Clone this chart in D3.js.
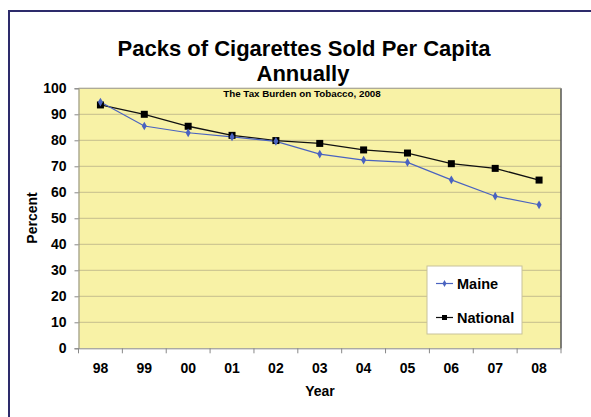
<!DOCTYPE html>
<html><head><meta charset="utf-8">
<script src="https://cdn.jsdelivr.net/npm/d3@7"></script>
<style>body{margin:0;background:#fff;}svg{display:block;font-family:"Liberation Sans",Arial,sans-serif;}</style>
</head><body><svg id="c" width="591" height="417"></svg>
<script>
const years = ["98","99","00","01","02","03","04","05","06","07","08"];
const maine = [94.7,85.5,82.9,81.3,79.6,74.7,72.4,71.5,64.8,58.5,55.2];
const national = [93.6,90.0,85.4,81.9,79.9,78.8,76.3,75.1,71.0,69.2,64.7];
const yTicks = [0,10,20,30,40,50,60,70,80,90,100];

const svg = d3.select("#c");
// outer frame
svg.append("path").attr("d","M9,420 L9,11 L600,11").attr("fill","none").attr("stroke","#2d2b6b").attr("stroke-width",2);

const L=78.5, R=561, T=88.3, B=348.3;
const x = d3.scaleBand().domain(years).range([L,R]);
const y = d3.scaleLinear().domain([0,100]).range([B,T]);

svg.append("rect").attr("x",L).attr("y",T).attr("width",R-L).attr("height",B-T).attr("fill","#f8f2a6");
svg.append("g").selectAll("line").data(yTicks.slice(1)).join("line")
  .attr("x1",L).attr("x2",R).attr("y1",d=>y(d)).attr("y2",d=>y(d)).attr("stroke","#c5bd8e").attr("stroke-width",1);
svg.append("line").attr("x1",R).attr("x2",R).attr("y1",T).attr("y2",B).attr("stroke","#555").attr("stroke-width",1.5);
svg.append("line").attr("x1",R).attr("x2",L).attr("y1",T).attr("y2",T).attr("stroke","#999").attr("stroke-width",0.8);

const ya = svg.append("g").attr("transform",`translate(${L},0)`).call(d3.axisLeft(y).tickValues(yTicks).tickSize(4).tickPadding(8));
ya.select(".domain").attr("stroke","#888");
ya.selectAll(".tick line").attr("stroke","#888");
ya.selectAll("text").attr("font-size",14).attr("font-weight","bold").attr("fill","#000");

const xa = svg.append("g").attr("transform",`translate(0,${B})`).call(d3.axisBottom(x).tickSize(0).tickPadding(15));
xa.select(".domain").attr("stroke","#888");
xa.selectAll("text").attr("font-size",14).attr("font-weight","bold").attr("fill","#000");
svg.append("g").selectAll("line").data(years.concat(["end"])).join("line")
  .attr("x1",(d,i)=>i<years.length?x(d):R).attr("x2",(d,i)=>i<years.length?x(d):R)
  .attr("y1",B).attr("y2",B+5).attr("stroke","#888");

const cx = d=>x(d)+x.bandwidth()/2;
const line = d3.line().x((d,i)=>cx(years[i])).y(d=>y(d));
svg.append("path").datum(national).attr("d",line).attr("fill","none").attr("stroke","#111").attr("stroke-width",1.3);
svg.append("path").datum(maine).attr("d",line).attr("fill","none").attr("stroke","#4a63c0").attr("stroke-width",1.2);
svg.append("g").selectAll("rect").data(national).join("rect")
  .attr("x",(d,i)=>cx(years[i])-3.5).attr("y",d=>y(d)-3.5).attr("width",7).attr("height",7).attr("fill","#000");
const diamond = d3.symbol().type(d3.symbolDiamond).size(22);
svg.append("g").selectAll("path").data(maine).join("path")
  .attr("transform",(d,i)=>`translate(${cx(years[i])},${y(d)})`).attr("d",diamond).attr("fill","#4a63c0");

// legend
const lg = svg.append("g");
lg.append("rect").attr("x",427).attr("y",266).attr("width",95).attr("height",68).attr("fill","#fff").attr("stroke","#c8c29a");
lg.append("line").attr("x1",436).attr("x2",453).attr("y1",283.5).attr("y2",283.5).attr("stroke","#4a63c0").attr("stroke-width",1.2);
lg.append("path").attr("transform","translate(444.5,283.5)").attr("d",d3.symbol().type(d3.symbolDiamond).size(14)).attr("fill","#4a63c0");
lg.append("text").attr("x",457).attr("y",288.5).attr("font-size",14.5).attr("font-weight","bold").text("Maine");
lg.append("line").attr("x1",436).attr("x2",453).attr("y1",317.5).attr("y2",317.5).attr("stroke","#111").attr("stroke-width",1.2);
lg.append("rect").attr("x",442).attr("y",315).attr("width",5).attr("height",5).attr("fill","#000");
lg.append("text").attr("x",457).attr("y",322.5).attr("font-size",14.5).attr("font-weight","bold").text("National");

// titles
svg.append("text").attr("x",304).attr("y",56).attr("text-anchor","middle").attr("font-size",22).attr("font-weight","bold").text("Packs of Cigarettes Sold Per Capita");
svg.append("text").attr("x",303).attr("y",81).attr("text-anchor","middle").attr("font-size",22).attr("font-weight","bold").text("Annually");
svg.append("text").attr("x",302).attr("y",97).attr("text-anchor","middle").attr("font-size",9.8).attr("font-weight","bold").text("The Tax Burden on Tobacco, 2008");
svg.append("text").attr("transform","translate(37,218) rotate(-90)").attr("text-anchor","middle").attr("font-size",14).attr("font-weight","bold").text("Percent");
svg.append("text").attr("x",320).attr("y",396).attr("text-anchor","middle").attr("font-size",14).attr("font-weight","bold").text("Year");
</script></body></html>
